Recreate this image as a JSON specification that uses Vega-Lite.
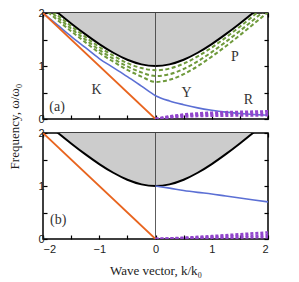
{
  "$schema": "https://vega.github.io/schema/vega-lite/v6.json",
  "background": "white",
  "padding": {"left": 7, "right": 3, "top": 6, "bottom": 2},
  "bounds": "flush",
  "config": {
    "view": {"stroke": "black", "strokeWidth": 1.5},
    "axis": {"labelFont": "Liberation Sans", "labelFontSize": 11, "labelColor": "#222", "titleFont": "Liberation Serif", "titleFontSize": 13, "titleFontWeight": "normal", "titleColor": "#222", "tickColor": "black", "tickSize": -4, "tickWidth": 1.2, "domain": false, "grid": false, "labelPadding": 3},
    "concat": {"spacing": 14},
    "text": {"font": "Liberation Serif", "fontSize": 14, "color": "#333"}
  },
  "datasets": {
    "curves": [
      {"p":"a","s":"black","k":-2,"w":2.236},{"p":"a","s":"black","k":-1.75,"w":2.016},{"p":"a","s":"black","k":-1.5,"w":1.803},{"p":"a","s":"black","k":-1.25,"w":1.601},{"p":"a","s":"black","k":-1,"w":1.414},{"p":"a","s":"black","k":-0.75,"w":1.25},{"p":"a","s":"black","k":-0.5,"w":1.118},{"p":"a","s":"black","k":-0.25,"w":1.031},{"p":"a","s":"black","k":0,"w":1},{"p":"a","s":"black","k":0.25,"w":1.031},{"p":"a","s":"black","k":0.5,"w":1.118},{"p":"a","s":"black","k":0.75,"w":1.25},{"p":"a","s":"black","k":1,"w":1.414},{"p":"a","s":"black","k":1.25,"w":1.601},{"p":"a","s":"black","k":1.5,"w":1.803},{"p":"a","s":"black","k":1.75,"w":2.016},{"p":"a","s":"black","k":2,"w":2.236},
      {"p":"a","s":"blue","k":-2,"w":2.0},{"p":"a","s":"blue","k":-1.75,"w":1.78},{"p":"a","s":"blue","k":-1.5,"w":1.56},{"p":"a","s":"blue","k":-1.25,"w":1.35},{"p":"a","s":"blue","k":-1,"w":1.14},{"p":"a","s":"blue","k":-0.75,"w":0.97},{"p":"a","s":"blue","k":-0.5,"w":0.8},{"p":"a","s":"blue","k":-0.25,"w":0.62},{"p":"a","s":"blue","k":0,"w":0.44},{"p":"a","s":"blue","k":0.25,"w":0.34},{"p":"a","s":"blue","k":0.5,"w":0.27},{"p":"a","s":"blue","k":0.75,"w":0.21},{"p":"a","s":"blue","k":1,"w":0.165},{"p":"a","s":"blue","k":1.25,"w":0.13},{"p":"a","s":"blue","k":1.5,"w":0.105},{"p":"a","s":"blue","k":1.75,"w":0.085},{"p":"a","s":"blue","k":2,"w":0.07},
      {"p":"a","s":"orange","k":-2,"w":2},{"p":"a","s":"orange","k":0,"w":0},
      {"p":"a","s":"g1","k":-2,"w":2.19},{"p":"a","s":"g1","k":-1.75,"w":1.969},{"p":"a","s":"g1","k":-1.5,"w":1.754},{"p":"a","s":"g1","k":-1.25,"w":1.551},{"p":"a","s":"g1","k":-1,"w":1.359},{"p":"a","s":"g1","k":-0.75,"w":1.194},{"p":"a","s":"g1","k":-0.5,"w":1.054},{"p":"a","s":"g1","k":-0.25,"w":0.961},{"p":"a","s":"g1","k":0,"w":0.92},{"p":"a","s":"g1","k":0.25,"w":0.952},{"p":"a","s":"g1","k":0.5,"w":1.044},{"p":"a","s":"g1","k":0.75,"w":1.18},{"p":"a","s":"g1","k":1,"w":1.349},{"p":"a","s":"g1","k":1.25,"w":1.538},{"p":"a","s":"g1","k":1.5,"w":1.742},{"p":"a","s":"g1","k":1.75,"w":1.956},{"p":"a","s":"g1","k":2,"w":2.177},
      {"p":"a","s":"g2","k":-2,"w":2.142},{"p":"a","s":"g2","k":-1.75,"w":1.922},{"p":"a","s":"g2","k":-1.5,"w":1.706},{"p":"a","s":"g2","k":-1.25,"w":1.501},{"p":"a","s":"g2","k":-1,"w":1.304},{"p":"a","s":"g2","k":-0.75,"w":1.138},{"p":"a","s":"g2","k":-0.5,"w":0.991},{"p":"a","s":"g2","k":-0.25,"w":0.879},{"p":"a","s":"g2","k":0,"w":0.81},{"p":"a","s":"g2","k":0.25,"w":0.845},{"p":"a","s":"g2","k":0.5,"w":0.943},{"p":"a","s":"g2","k":0.75,"w":1.087},{"p":"a","s":"g2","k":1,"w":1.262},{"p":"a","s":"g2","k":1.25,"w":1.456},{"p":"a","s":"g2","k":1.5,"w":1.662},{"p":"a","s":"g2","k":1.75,"w":1.877},{"p":"a","s":"g2","k":2,"w":2.098},
      {"p":"a","s":"g3","k":-2,"w":2.094},{"p":"a","s":"g3","k":-1.75,"w":1.874},{"p":"a","s":"g3","k":-1.5,"w":1.657},{"p":"a","s":"g3","k":-1.25,"w":1.45},{"p":"a","s":"g3","k":-1,"w":1.25},{"p":"a","s":"g3","k":-0.75,"w":1.082},{"p":"a","s":"g3","k":-0.5,"w":0.927},{"p":"a","s":"g3","k":-0.25,"w":0.801},{"p":"a","s":"g3","k":0,"w":0.7},{"p":"a","s":"g3","k":0.25,"w":0.739},{"p":"a","s":"g3","k":0.5,"w":0.845},{"p":"a","s":"g3","k":0.75,"w":0.997},{"p":"a","s":"g3","k":1,"w":1.177},{"p":"a","s":"g3","k":1.25,"w":1.374},{"p":"a","s":"g3","k":1.5,"w":1.582},{"p":"a","s":"g3","k":1.75,"w":1.798},{"p":"a","s":"g3","k":2,"w":2.017},
      {"p":"a","s":"p1","k":0,"w":0},{"p":"a","s":"p1","k":0.25,"w":0.05},{"p":"a","s":"p1","k":0.5,"w":0.085},{"p":"a","s":"p1","k":0.75,"w":0.105},{"p":"a","s":"p1","k":1,"w":0.12},{"p":"a","s":"p1","k":1.5,"w":0.135},{"p":"a","s":"p1","k":2,"w":0.145},
      {"p":"a","s":"p2","k":0,"w":0},{"p":"a","s":"p2","k":0.25,"w":0.04},{"p":"a","s":"p2","k":0.5,"w":0.065},{"p":"a","s":"p2","k":0.75,"w":0.08},{"p":"a","s":"p2","k":1,"w":0.09},{"p":"a","s":"p2","k":1.5,"w":0.1},{"p":"a","s":"p2","k":2,"w":0.105},
      {"p":"a","s":"p3","k":0,"w":0},{"p":"a","s":"p3","k":0.25,"w":0.03},{"p":"a","s":"p3","k":0.5,"w":0.045},{"p":"a","s":"p3","k":0.75,"w":0.055},{"p":"a","s":"p3","k":1,"w":0.06},{"p":"a","s":"p3","k":1.5,"w":0.065},{"p":"a","s":"p3","k":2,"w":0.07},
      {"p":"a","s":"vline","k":0,"w":0},{"p":"a","s":"vline","k":0,"w":2},
      {"p":"b","s":"black","k":-2,"w":2.236},{"p":"b","s":"black","k":-1.75,"w":2.016},{"p":"b","s":"black","k":-1.5,"w":1.803},{"p":"b","s":"black","k":-1.25,"w":1.601},{"p":"b","s":"black","k":-1,"w":1.414},{"p":"b","s":"black","k":-0.75,"w":1.25},{"p":"b","s":"black","k":-0.5,"w":1.118},{"p":"b","s":"black","k":-0.25,"w":1.031},{"p":"b","s":"black","k":0,"w":1},{"p":"b","s":"black","k":0.25,"w":1.031},{"p":"b","s":"black","k":0.5,"w":1.118},{"p":"b","s":"black","k":0.75,"w":1.25},{"p":"b","s":"black","k":1,"w":1.414},{"p":"b","s":"black","k":1.25,"w":1.601},{"p":"b","s":"black","k":1.5,"w":1.803},{"p":"b","s":"black","k":1.75,"w":2.016},{"p":"b","s":"black","k":2,"w":2.236},
      {"p":"b","s":"orange","k":-2,"w":2},{"p":"b","s":"orange","k":0,"w":0},
      {"p":"b","s":"blue","k":0,"w":1.0},{"p":"b","s":"blue","k":0.25,"w":0.96},{"p":"b","s":"blue","k":0.5,"w":0.915},{"p":"b","s":"blue","k":0.75,"w":0.88},{"p":"b","s":"blue","k":1,"w":0.85},{"p":"b","s":"blue","k":1.25,"w":0.81},{"p":"b","s":"blue","k":1.5,"w":0.775},{"p":"b","s":"blue","k":1.75,"w":0.735},{"p":"b","s":"blue","k":2,"w":0.7},
      {"p":"b","s":"p1","k":0,"w":0},{"p":"b","s":"p1","k":0.5,"w":0.025},{"p":"b","s":"p1","k":1,"w":0.055},{"p":"b","s":"p1","k":1.5,"w":0.09},{"p":"b","s":"p1","k":2,"w":0.125},
      {"p":"b","s":"p2","k":0,"w":0},{"p":"b","s":"p2","k":0.5,"w":0.015},{"p":"b","s":"p2","k":1,"w":0.035},{"p":"b","s":"p2","k":1.5,"w":0.055},{"p":"b","s":"p2","k":2,"w":0.075},
      {"p":"b","s":"p3","k":0,"w":0},{"p":"b","s":"p3","k":0.5,"w":0.005},{"p":"b","s":"p3","k":1,"w":0.015},{"p":"b","s":"p3","k":1.5,"w":0.025},{"p":"b","s":"p3","k":2,"w":0.035},
      {"p":"b","s":"vline","k":0,"w":0},{"p":"b","s":"vline","k":0,"w":2}
    ],
    "labels": [
      {"p":"a","t":"K","k":-1.05,"w":0.55},
      {"p":"a","t":"Y","k":0.55,"w":0.49},
      {"p":"a","t":"P","k":1.41,"w":1.17},
      {"p":"a","t":"R","k":1.65,"w":0.36},
      {"p":"a","t":"(a)","k":-1.75,"w":0.23},
      {"p":"b","t":"(b)","k":-1.73,"w":0.36}
    ]
  },
  "vconcat": [
    {
      "width": 225, "height": 106,
      "data": {"name": "curves"},
      "transform": [{"filter": "datum.p === 'a'"}],
      "resolve": {"axis": {"x": "independent", "y": "independent"}},
      "layer": [
        {"transform": [{"filter": "datum.s === 'black'"}],
         "mark": {"type": "area", "color": "#cccccc", "clip": true, "interpolate": "monotone"},
         "encoding": {
           "x": {"field": "k", "type": "quantitative", "scale": {"domain": [-2, 2], "nice": false}, "axis": {"orient": "bottom", "values": [-2,-1.5,-1,-0.5,0,0.5,1,1.5,2], "labels": false, "title": null}},
           "y": {"field": "w", "type": "quantitative", "scale": {"domain": [0, 2], "nice": false}, "axis": {"orient": "left", "values": [0,0.5,1,1.5,2], "labelExpr": "datum.value % 1 === 0 ? format(datum.value, 'd') : ''", "title": "Frequency, ω/ω₀", "titleY": 113, "titleX": -29, "titleBaseline": "middle"}},
           "y2": {"datum": 2}
         }},
        {"transform": [{"filter": "datum.s === 'black'"}],
         "mark": {"type": "line", "color": "black", "strokeWidth": 2, "clip": true, "interpolate": "monotone"},
         "encoding": {
           "x": {"field": "k", "type": "quantitative", "axis": {"orient": "top", "values": [-2,-1.5,-1,-0.5,0,0.5,1,1.5,2], "labels": false, "title": null}},
           "y": {"field": "w", "type": "quantitative", "axis": {"orient": "right", "values": [0,0.5,1,1.5,2], "labels": false, "title": null}}
         }},
        {"transform": [{"filter": "datum.s === 'vline'"}],
         "mark": {"type": "line", "color": "#333", "strokeWidth": 0.8, "clip": true},
         "encoding": {"x": {"field": "k", "type": "quantitative", "axis": null}, "y": {"field": "w", "type": "quantitative", "axis": null}}},
        {"transform": [{"filter": "datum.s === 'g1' || datum.s === 'g2' || datum.s === 'g3'"}],
         "mark": {"type": "line", "color": "#6f9a3c", "strokeWidth": 2, "strokeDash": [4, 2.5], "clip": true, "interpolate": "monotone"},
         "encoding": {"x": {"field": "k", "type": "quantitative", "axis": null}, "y": {"field": "w", "type": "quantitative", "axis": null}, "detail": {"field": "s"}}},
        {"transform": [{"filter": "datum.s === 'blue'"}],
         "mark": {"type": "line", "color": "#5b6fd4", "strokeWidth": 1.6, "clip": true, "interpolate": "monotone"},
         "encoding": {"x": {"field": "k", "type": "quantitative", "axis": null}, "y": {"field": "w", "type": "quantitative", "axis": null}}},
        {"transform": [{"filter": "datum.s === 'orange'"}],
         "mark": {"type": "line", "color": "#e8641e", "strokeWidth": 1.8, "clip": true},
         "encoding": {"x": {"field": "k", "type": "quantitative", "axis": null}, "y": {"field": "w", "type": "quantitative", "axis": null}}},
        {"transform": [{"filter": "datum.s === 'p1' || datum.s === 'p2' || datum.s === 'p3'"}],
         "mark": {"type": "line", "color": "#9146cc", "strokeWidth": 2.5, "strokeDash": [3, 2], "clip": true, "interpolate": "monotone"},
         "encoding": {"x": {"field": "k", "type": "quantitative", "axis": null}, "y": {"field": "w", "type": "quantitative", "axis": null}, "detail": {"field": "s"}}},
        {"data": {"name": "labels"},
         "transform": [{"filter": "datum.p === 'a'"}],
         "mark": {"type": "text", "font": "Liberation Serif", "fontSize": 14, "color": "#333"},
         "encoding": {"x": {"field": "k", "type": "quantitative", "axis": null}, "y": {"field": "w", "type": "quantitative", "axis": null}, "text": {"field": "t"}}}
      ]
    },
    {
      "width": 225, "height": 106,
      "data": {"name": "curves"},
      "transform": [{"filter": "datum.p === 'b'"}],
      "resolve": {"axis": {"x": "independent", "y": "independent"}},
      "layer": [
        {"transform": [{"filter": "datum.s === 'black'"}],
         "mark": {"type": "area", "color": "#cccccc", "clip": true, "interpolate": "monotone"},
         "encoding": {
           "x": {"field": "k", "type": "quantitative", "scale": {"domain": [-2, 2], "nice": false}, "axis": {"orient": "bottom", "values": [-2,-1.5,-1,-0.5,0,0.5,1,1.5,2], "labelExpr": "datum.value % 1 === 0 ? format(datum.value, 'd') : ''", "labelPadding": 8, "title": "Wave vector, k/k₀", "titlePadding": 10}},
           "y": {"field": "w", "type": "quantitative", "scale": {"domain": [0, 2], "nice": false}, "axis": {"orient": "left", "values": [0,0.5,1,1.5,2], "labelExpr": "datum.value % 1 === 0 ? format(datum.value, 'd') : ''", "title": null}},
           "y2": {"datum": 2}
         }},
        {"transform": [{"filter": "datum.s === 'black'"}],
         "mark": {"type": "line", "color": "black", "strokeWidth": 2, "clip": true, "interpolate": "monotone"},
         "encoding": {
           "x": {"field": "k", "type": "quantitative", "axis": {"orient": "top", "values": [-2,-1.5,-1,-0.5,0,0.5,1,1.5,2], "labels": false, "title": null}},
           "y": {"field": "w", "type": "quantitative", "axis": {"orient": "right", "values": [0,0.5,1,1.5,2], "labels": false, "title": null}}
         }},
        {"transform": [{"filter": "datum.s === 'vline'"}],
         "mark": {"type": "line", "color": "#333", "strokeWidth": 0.8, "clip": true},
         "encoding": {"x": {"field": "k", "type": "quantitative", "axis": null}, "y": {"field": "w", "type": "quantitative", "axis": null}}},
        {"transform": [{"filter": "datum.s === 'blue'"}],
         "mark": {"type": "line", "color": "#5b6fd4", "strokeWidth": 1.6, "clip": true, "interpolate": "monotone"},
         "encoding": {"x": {"field": "k", "type": "quantitative", "axis": null}, "y": {"field": "w", "type": "quantitative", "axis": null}}},
        {"transform": [{"filter": "datum.s === 'orange'"}],
         "mark": {"type": "line", "color": "#e8641e", "strokeWidth": 1.8, "clip": true},
         "encoding": {"x": {"field": "k", "type": "quantitative", "axis": null}, "y": {"field": "w", "type": "quantitative", "axis": null}}},
        {"transform": [{"filter": "datum.s === 'p1' || datum.s === 'p2' || datum.s === 'p3'"}],
         "mark": {"type": "line", "color": "#9146cc", "strokeWidth": 2.5, "strokeDash": [3, 2], "clip": true, "interpolate": "monotone"},
         "encoding": {"x": {"field": "k", "type": "quantitative", "axis": null}, "y": {"field": "w", "type": "quantitative", "axis": null}, "detail": {"field": "s"}}},
        {"data": {"name": "labels"},
         "transform": [{"filter": "datum.p === 'b'"}],
         "mark": {"type": "text", "font": "Liberation Serif", "fontSize": 14, "color": "#333"},
         "encoding": {"x": {"field": "k", "type": "quantitative", "axis": null}, "y": {"field": "w", "type": "quantitative", "axis": null}, "text": {"field": "t"}}}
      ]
    }
  ]
}
